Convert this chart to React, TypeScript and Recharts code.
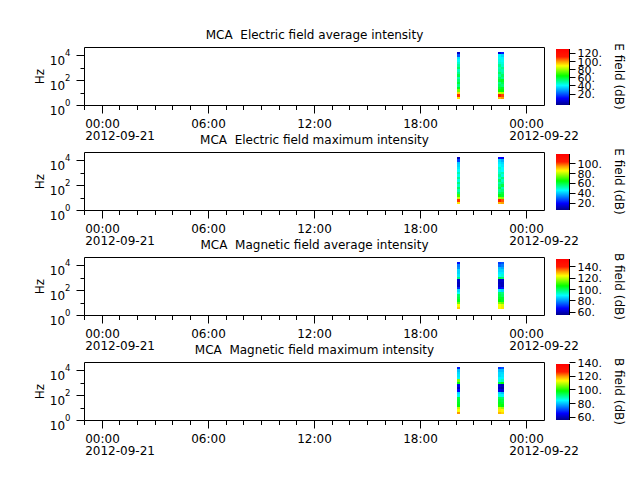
import { Bar, BarChart, ComposedChart, ReferenceArea, XAxis, YAxis } from "recharts"

const FONT = "DejaVu Sans"

// MCA channel edges in Hz, low to high
const FREQ_EDGES = [3.2, 5, 7.9, 12.6, 20, 31.6, 50, 79, 126, 200, 316, 501, 794, 1259, 1995, 3162, 5012, 7943, 12589, 19953]

// spectra start / end, hours from 2012-09-21 00:00
const SLOT_START = [20.06, 22.38, 22.55]
const SLOT_END = [20.23, 22.55, 22.72]

const HOUR_TICKS = [-1, 0, 1, 2, 3, 4, 5, 6, 7, 8, 9, 10, 11, 12, 13, 14, 15, 16, 17, 18, 19, 20, 21, 22, 23, 24]
const FREQ_TICKS = [1, 10, 100, 1000, 10000]
const TIME_LABELS: Record<number, string[]> = {
  0: ["00:00", "2012-09-21"],
  6: ["06:00"],
  12: ["12:00"],
  18: ["18:00"],
  24: ["00:00", "2012-09-22"],
}

// dB per channel (low to high frequency), one row per spectrum
const E_AVG = [
  [92, 110, 94, 76, 62, 52, 60, 54, 48, 58, 52, 47, 56, 50, 46, 42, 38, 20, 2],
  [96, 112, 84, 66, 60, 56, 52, 60, 56, 50, 56, 50, 48, 52, 46, 44, 42, 40, 4],
  [100, 108, 82, 64, 62, 54, 58, 62, 52, 56, 50, 48, 52, 46, 44, 42, 40, 36, 12],
]
const E_MAX = [
  [88, 102, 82, 70, 58, 52, 58, 50, 56, 48, 54, 47, 52, 46, 44, 42, 40, 26, 12],
  [92, 104, 78, 64, 58, 54, 60, 56, 52, 58, 50, 54, 50, 48, 50, 46, 44, 42, 20],
  [94, 100, 76, 62, 60, 56, 52, 60, 54, 50, 56, 48, 52, 46, 46, 44, 42, 38, 18],
]
const B_AVG = [
  [128, 124, 114, 104, 102, 100, 90, 86, 70, 61, 60, 62, 98, 88, 86, 86, 80, 78, 68],
  [124, 124, 116, 106, 104, 102, 100, 88, 66, 62, 60, 61, 102, 90, 88, 86, 84, 76, 72],
  [126, 122, 114, 104, 104, 100, 98, 86, 68, 60, 60, 62, 100, 92, 88, 86, 82, 78, 74],
]
const B_MAX = [
  [120, 113, 110, 98, 97, 96, 95, 84, 82, 66, 60, 64, 98, 106, 84, 83, 82, 80, 68],
  [118, 115, 110, 100, 97, 96, 94, 86, 82, 64, 60, 62, 96, 86, 84, 82, 82, 80, 70],
  [116, 114, 108, 98, 96, 95, 93, 84, 80, 62, 58, 60, 98, 88, 84, 83, 82, 80, 72],
]

const E_AVG_TICKS = [20, 40, 60, 80, 100, 120]
const E_MAX_TICKS = [20, 40, 60, 80, 100]
const B_TICKS = [60, 80, 100, 120, 140]

const PANELS = [
  { title: "MCA  Electric field average intensity", unit: "E field (dB)", values: E_AVG, range: [-7, 131], ticks: E_AVG_TICKS },
  { title: "MCA  Electric field maximum intensity", unit: "E field (dB)", values: E_MAX, range: [6, 120], ticks: E_MAX_TICKS },
  { title: "MCA  Magnetic field average intensity", unit: "B field (dB)", values: B_AVG, range: [55, 154], ticks: B_TICKS },
  { title: "MCA  Magnetic field maximum intensity", unit: "B field (dB)", values: B_MAX, range: [56, 138], ticks: B_TICKS },
]

// rainbow colour table
const CMAP: [number, number[]][] = [
  [0, [0, 0, 140]],
  [0.12, [0, 0, 255]],
  [0.35, [0, 255, 255]],
  [0.52, [0, 255, 0]],
  [0.7, [255, 255, 0]],
  [0.78, [255, 153, 0]],
  [0.86, [255, 26, 0]],
  [1, [255, 0, 0]],
]

const rgb = (c: number[]) => `rgb(${c.map(Math.round).join(",")})`

function colorAt(v: number, range: number[]) {
  const t = Math.min(1, Math.max(0, (v - range[0]) / (range[1] - range[0])))
  for (let i = 1; i < CMAP.length; i++) {
    if (t <= CMAP[i][0]) {
      const [t0, c0] = CMAP[i - 1]
      const [t1, c1] = CMAP[i]
      const f = (t - t0) / (t1 - t0)
      return rgb(c0.map((c, k) => c + (c1[k] - c) * f))
    }
  }
  return rgb(CMAP[CMAP.length - 1][1])
}

const snap = (v: number) => Math.round(v - 0.5) + 0.5

const TimeTick = (props: any) => {
  const { x, y, payload } = props
  const lines = TIME_LABELS[payload.value]
  const px = snap(x)
  return (
    <g>
      <line x1={px} x2={px} y1={y} y2={y + (lines ? 8 : 4.5)} stroke="#000" />
      {lines && (
        <text x={px} y={y + 22.5} textAnchor="middle" fontSize={12} fontFamily={FONT} fill="#000">
          {lines[0]}
        </text>
      )}
      {lines && lines[1] && (
        <text x={px - 17.3} y={y + 34} fontSize={12} fontFamily={FONT} fill="#000">
          {lines[1]}
        </text>
      )}
    </g>
  )
}

const FreqTick = (props: any) => {
  const { x, y, payload } = props
  const exp = Math.round(Math.log10(payload.value))
  const major = exp % 2 === 0
  const py = snap(y)
  return (
    <g>
      <line x1={x - (major ? 8 : 4)} x2={x} y1={py} y2={py} stroke="#000" />
      {major && (
        <text x={x - 14} y={y + 9.7} textAnchor="end" fontSize={12} fontFamily={FONT} fill="#000">
          10<tspan dy={-9} fontSize={8.5}>{exp}</tspan>
        </text>
      )}
    </g>
  )
}

const BarTick = (props: any) => {
  const { x, y, payload } = props
  const py = snap(y)
  return (
    <g>
      <line x1={x} x2={x + 6} y1={py} y2={py} stroke="#000" />
      <text x={x + 8} y={y + 4} fontSize={11} fontFamily={FONT} fill="#000">
        {payload.value}.
      </text>
    </g>
  )
}

const ColorBar = ({ range, ticks, top, id }: { range: number[]; ticks: number[]; top: number; id: string }) => (
  <div style={{ position: "absolute", left: 556, top: top - 10 }}>
    <BarChart width={84} height={76} data={[{ name: "scale", band: range }]} margin={{ top: 10, right: 0, bottom: 10, left: 0 }} barCategoryGap={0}>
      <defs>
        <linearGradient id={id} x1="0" y1="1" x2="0" y2="0">
          {CMAP.map(([t, c]) => (
            <stop key={t} offset={t} stopColor={rgb(c)} />
          ))}
        </linearGradient>
      </defs>
      <XAxis dataKey="name" hide />
      <YAxis
        orientation="right"
        type="number"
        domain={range}
        allowDataOverflow
        ticks={ticks}
        interval={0}
        width={70.5}
        axisLine={{ stroke: "#000" }}
        tickLine={false}
        tickSize={0}
        tickMargin={0}
        tick={<BarTick />}
      />
      <Bar dataKey="band" fill={`url(#${id})`} isAnimationActive={false} />
    </BarChart>
  </div>
)

// one row per spectrum, used as the chart's data so the time axis has a key
const slots = SLOT_START.map((t, i) => ({ t, end: SLOT_END[i] }))

const Panel = ({ panel, top, idx }: { panel: (typeof PANELS)[number]; top: number; idx: number }) => {
  const plotTop = 30.5
  return (
    <>
      <div style={{ position: "absolute", left: 0, top: top - 30 }}>
        <ComposedChart width={640} height={150} data={slots} margin={{ top: plotTop, right: 95.5, bottom: 21.5, left: 0 }}>
          <XAxis
            dataKey="t"
            type="number"
            domain={[-1, 25]}
            allowDataOverflow
            ticks={HOUR_TICKS}
            interval={0}
            height={40}
            axisLine={false}
            tickLine={false}
            tickSize={0}
            tickMargin={0}
            tick={<TimeTick />}
          />
          <YAxis
            type="number"
            scale="log"
            domain={[1, 44000]}
            allowDataOverflow
            ticks={FREQ_TICKS}
            interval={0}
            width={84.5}
            axisLine={false}
            tickLine={false}
            tickSize={0}
            tickMargin={0}
            tick={<FreqTick />}
          />
          {panel.values.map((row, s) =>
            row.map((v, i) => (
              <ReferenceArea
                key={`${s}-${i}`}
                x1={SLOT_START[s]}
                x2={SLOT_END[s]}
                y1={FREQ_EDGES[i]}
                y2={FREQ_EDGES[i + 1]}
                fill={colorAt(v, panel.range)}
                fillOpacity={1}
                stroke="none"
                shapeRendering="crispEdges"
                ifOverflow="visible"
              />
            ))
          )}
          <ReferenceArea x1={-1} x2={25} y1={1} y2={44000} fill="none" stroke="#000" strokeWidth={1} ifOverflow="visible" />
          <text x={314.5} y={plotTop - 8.5} textAnchor="middle" fontSize={12} fontFamily={FONT} fill="#000" style={{ whiteSpace: "pre" }}>
            {panel.title}
          </text>
          <text x={43.5} y={plotTop + 29} textAnchor="middle" fontSize={12} fontFamily={FONT} fill="#000" transform={`rotate(-90 43.5 ${plotTop + 29})`}>
            Hz
          </text>
          <text x={615} y={plotTop + 29} textAnchor="middle" fontSize={12} fontFamily={FONT} fill="#000" transform={`rotate(90 615 ${plotTop + 29})`}>
            {panel.unit}
          </text>
        </ComposedChart>
      </div>
      <ColorBar range={panel.range} ticks={panel.ticks} top={top + 2} id={`cbar${idx}`} />
    </>
  )
}

const PANEL_TOPS = [47, 152, 257, 362]

export default function App() {
  return (
    <div style={{ position: "absolute", left: 0, top: 0, width: 640, height: 480, background: "#fff" }}>
      {PANELS.map((p, i) => (
        <Panel key={p.title} panel={p} top={PANEL_TOPS[i]} idx={i} />
      ))}
    </div>
  )
}
